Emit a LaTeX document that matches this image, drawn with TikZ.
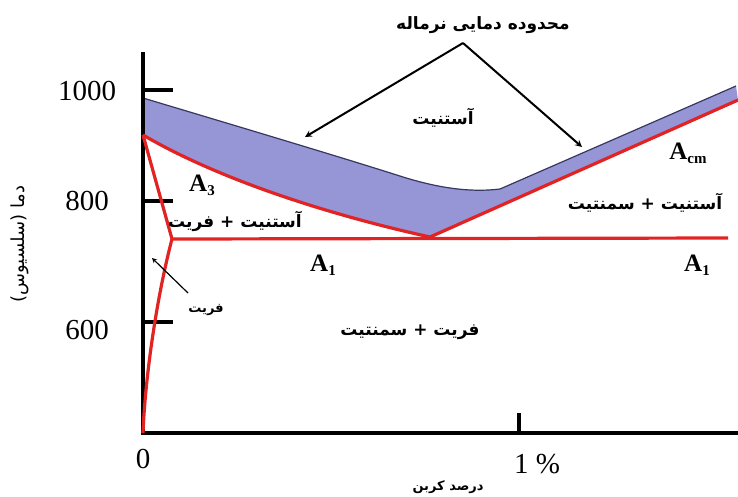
\documentclass[tikz,border=0pt]{standalone}
\usepackage{fontspec}
\usepackage{tikz}
\setmainfont{Liberation Serif}
\newfontfamily\fa[Script=Arabic, BoldFont={DejaVu Sans Bold}]{DejaVu Sans}
\TeXXeTstate=1
\definecolor{phred}{RGB}{225,35,35}
\definecolor{phblue}{RGB}{150,150,215}
\definecolor{phedge}{RGB}{55,55,95}
\newcommand{\fatxt}[1]{\fa\beginR #1\endR}
\newcommand{\Asub}[1]{\textbf{A}\raisebox{-0.35ex}{\fontsize{15}{15}\selectfont\textbf{#1}}}
\tikzset{
  phase/.style={font=\fontsize{17}{19}\selectfont\bfseries, inner sep=0pt},
  tempnum/.style={font=\fontsize{29}{31}\selectfont, inner sep=0pt},
  crit/.style={font=\fontsize{25}{27}\selectfont, inner sep=0pt},
  redline/.style={draw=phred, line width=3.2pt, line join=round},
  axisline/.style={draw=black, line width=3.4pt},
  pointer/.style={->, >=stealth, line width=2pt}
}

\begin{document}
\begin{tikzpicture}[x=1pt, y=-1pt]
\useasboundingbox (0,0) rectangle (738,496);

% blue band
\fill[phblue] (143,98) .. controls (250,130) and (350,160) .. (403,177)
  .. controls (445,190) and (475,192) .. (500,189) -- (736,86) -- (738,100)
  -- (430,237) .. controls (330,215) and (220,180) .. (143,135) -- cycle;
\draw[phedge, line width=1.2pt] (143,98) .. controls (250,130) and (350,160) .. (403,177)
  .. controls (445,190) and (475,192) .. (500,189) -- (736,86);

% axes
\draw[axisline] (143,52) -- (143,433) -- (738,433);
\foreach \yy in {90,201,322}
  \draw[axisline] (143,\yy) -- (173,\yy);
\draw[axisline] (519,433) -- (519,413);

% phase lines
\coordinate (gam) at (143,135);
\coordinate (alf) at (172,239);
\coordinate (eut) at (430,237);
\draw[redline] (gam) .. controls (220,180) and (330,215) .. (eut) -- (738,100);
\draw[redline] (alf) -- (728,238);
\draw[redline] (gam) -- (alf) .. controls (156,300) and (145,380) .. (143,433);

% numbers
\node[tempnum] (t1000) at (87,91) {1000};
\node[tempnum] (t800) at (87,201) {800};
\node[tempnum] (t600) at (87,330) {600};
\node[tempnum] (c0) at (143,459) {0};
\node[tempnum] (c1) at (537,464) {1 \%};

% axis labels
\node[inner sep=0pt, rotate=90, font=\fontsize{18}{20}\selectfont] (ylbl) at (20,244) {\fatxt{دما (سلسیوس)}};
\node[phase, font=\fontsize{13}{15}\selectfont\bfseries] (xlbl) at (448,487) {\fatxt{درصد کربن}};

% critical lines
\node[crit] (a3) at (202,185) {\Asub{3}};
\node[crit] (a1l) at (323,265) {\Asub{1}};
\node[crit] (a1r) at (697,265) {\Asub{1}};
\node[crit] (acm) at (688,153) {\Asub{cm}};

% phases
\node[phase] (aus) at (443,118) {\fatxt{آستنیت}};
\node[phase] (ausfer) at (235,221) {\fatxt{آستنیت + فریت}};
\node[phase] (auscem) at (645,203) {\fatxt{آستنیت + سمنتیت}};
\node[phase] (fercem) at (410,332) {\fatxt{فریت + سمنتیت}};
\node[phase, font=\fontsize{13}{15}\selectfont\bfseries] (fer) at (206,310) {\fatxt{فریت}};
\node[phase] (norm) at (483,25) {\fatxt{محدوده دمایی نرماله}};

% pointers
\coordinate (apex) at (463,43);
\coordinate (bandl) at (305,137);
\coordinate (bandr) at (582,147);
\coordinate (fertail) at (188,293);
\coordinate (fertip) at (152,258);
\draw[pointer] (apex) -- (bandl);
\draw[pointer] (apex) -- (bandr);
\draw[pointer, line width=1.2pt] (fertail) -- (fertip);
\end{tikzpicture}
\end{document}
